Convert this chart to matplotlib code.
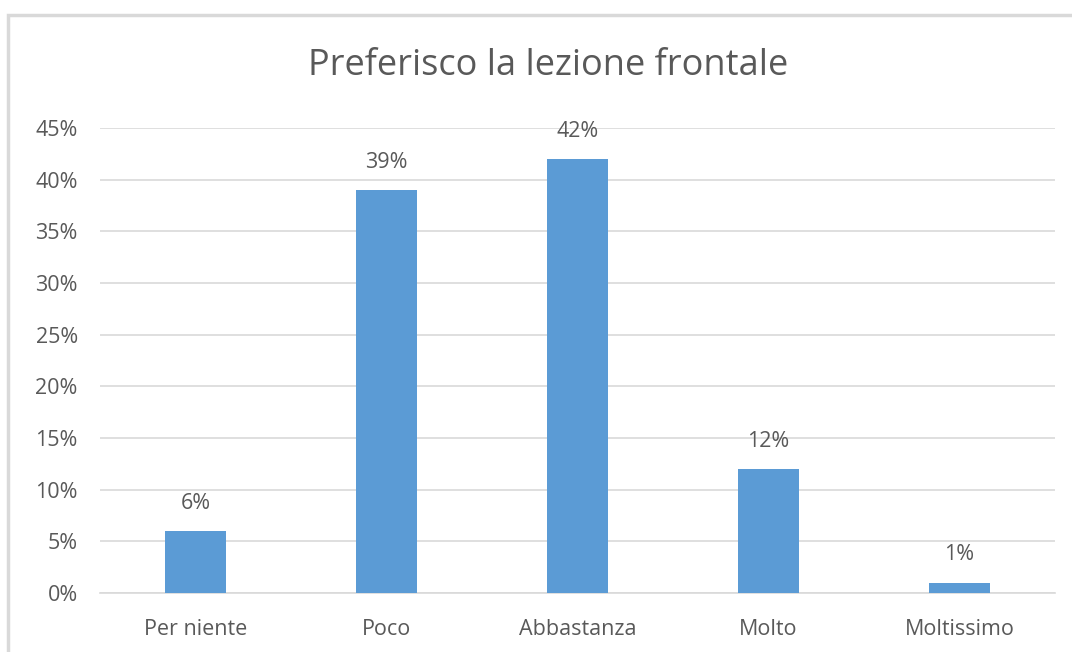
import matplotlib
matplotlib.use("Agg")
import matplotlib.pyplot as plt
from matplotlib.patches import Rectangle

categories = ["Per niente", "Poco", "Abbastanza", "Molto", "Moltissimo"]
values = [6, 39, 42, 12, 1]
yticks = [0, 5, 10, 15, 20, 25, 30, 35, 40, 45]
title = "Preferisco la lezione frontale"

plt.rcParams['font.family'] = ['Open Sans', 'DejaVu Sans']
W, H = 1072, 652
fig = plt.figure(figsize=(W/100, H/100), dpi=100)
fig.patch.set_facecolor("white")

# outer chart frame
fig.patches.append(Rectangle((8/W, -0.1), 1.2, 1 - 15/H + 0.1, transform=fig.transFigure,
                             fill=False, edgecolor="#D9D9D9", linewidth=2.5, zorder=0))

ax = fig.add_axes([100/W, 1 - 593/H, 955/W, (593-128)/H])
x = list(range(len(categories)))
ax.bar(x, values, width=0.315, color="#5B9BD5", zorder=3)
for xi, v in zip(x, values):
    ax.annotate(f"{v}%", (xi, v), xytext=(0, 20), textcoords="offset points",
                ha="center", va="center", fontsize=15.5, color="#595959")

ax.set_xlim(-0.5, len(categories) - 0.5)
ax.set_ylim(0, 45)
ax.set_yticks(yticks)
ax.set_yticklabels([f"{t}%" for t in yticks])
ax.set_xticks(x)
ax.set_xticklabels(categories)
ax.tick_params(axis="both", length=0, labelsize=15.5, colors="#595959")
ax.tick_params(axis="y", pad=16)
ax.tick_params(axis="x", pad=19)
ax.grid(axis="y", color="#D9D9D9", linewidth=1.2, zorder=0)
for s in ["top", "right", "left"]:
    ax.spines[s].set_visible(False)
ax.spines["bottom"].set_color("#D9D9D9")
ax.spines["bottom"].set_linewidth(1.2)

fig.text(548/W, 1 - 66/H, title, ha="center", va="center", fontsize=26, color="#595959")

fig.savefig("out.png", dpi=100)
